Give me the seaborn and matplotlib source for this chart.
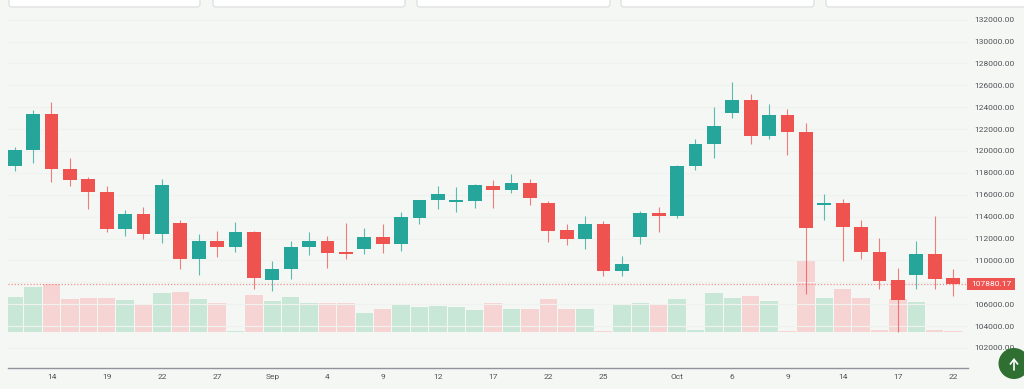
import matplotlib
matplotlib.use('Agg')
import matplotlib.pyplot as plt
from matplotlib.patches import FancyBboxPatch, Circle, Rectangle
import numpy as np
import pandas as pd
import seaborn as sns

W, H = 1024, 389
BG = '#f5f7f4'
UP = '#26a69a'
DOWN = '#ef5350'
UP_VOL = '#c9e7d6'
DOWN_VOL = '#f7d4d4'
TEXT = '#4f5458'

# body start (open) and end (close), wick high and low
opens = [118658, 120060, 123351, 118384, 117470, 116251, 112839, 114271, 112442, 113448,
         110096, 111742, 111223, 112564, 108237, 109213, 111223, 111742, 110736, 111071,
         112107, 111467, 113905, 115489, 115367, 115398, 116769, 116403, 117104, 115276,
         112747, 111985, 113357, 108999, 112168, 114362, 114057, 118658, 120608, 123503,
         124691, 121370, 123320, 121705, 115062, 115276, 113052, 110797, 108177, 108634,
         110553, 108360]
closes = [120090, 123351, 118354, 117379, 116251, 112839, 114271, 112442, 116921, 110096,
          111742, 111223, 112564, 108359, 109243, 111223, 111742, 110706, 110614, 112107,
          111467, 113966, 115550, 116068, 115428, 116861, 116403, 117104, 115672, 112686,
          111985, 113357, 109030, 109700, 114362, 114057, 118628, 120639, 122315, 124691,
          121400, 123320, 121705, 112960, 115276, 113021, 110767, 108146, 106379, 110553,
          108329, 107880]
highs = [120334, 123747, 124509, 119359, 117653, 116800, 114606, 114849, 117439, 113692,
         112381, 112686, 113478, 112686, 109914, 111742, 112625, 112260, 113417, 112930,
         113296, 114393, 115550, 116800, 116739, 117013, 117348, 117896, 117470, 115398,
         113357, 114027, 113570, 110401, 114484, 114849, 118719, 121126, 123990, 126276,
         125240, 124265, 123838, 122589, 116068, 115580, 113661, 112016, 109273, 111742,
         114088, 109182]
lows = [118201, 118933, 117196, 116830, 114667, 112625, 112259, 111924, 111620, 109243,
        108634, 110279, 110797, 107384, 107171, 108329, 110523, 109304, 110157, 110584,
        110706, 110888, 113357, 114727, 114393, 114788, 114788, 116190, 115063, 111711,
        111437, 111010, 108573, 108573, 111528, 112625, 113905, 118292, 119328, 123046,
        120608, 121065, 119664, 106957, 113661, 109943, 110157, 107415, 103484, 107415,
        107415, 106775]
# volume in arbitrary units, the scale is not shown in the picture
volumes = [34.5, 45.0, 47.7, 32.5, 33.7, 33.7, 31.7, 27.0, 39.0, 39.7,
           32.5, 29.0, 0.7, 36.3, 31.0, 35.0, 28.3, 29.0, 28.3, 19.0,
           22.3, 26.3, 24.3, 25.7, 25.0, 21.7, 28.3, 23.0, 23.0, 33.0,
           22.3, 22.3, 0.7, 27.0, 28.3, 27.7, 33.0, 1.3, 39.0, 33.7,
           35.7, 30.3, 0.5, 71.0, 33.7, 42.7, 33.7, 1.3, 32.3, 29.7,
           1.3, 0.5]

tick_index = [2, 5, 8, 11, 14, 17, 20, 23, 26, 29, 32, 36, 39, 42, 45, 48, 51]
tick_labels = ['14', '19', '22', '27', 'Sep', '4', '9', '12', '17', '22', '25',
               'Oct', '6', '9', '14', '17', '22']
price_ticks = list(range(102000, 134000, 2000))
last_price = 107880.17

df = pd.DataFrame({'idx': np.arange(len(opens)), 'open': opens, 'close': closes,
                   'high': highs, 'low': lows, 'volume': volumes})
df['dir'] = np.where(df['close'] >= df['open'], 'up', 'down')
df['color'] = df['dir'].map({'up': UP, 'down': DOWN})

sns.set_theme(style='white')
plt.rcParams['font.family'] = ['Roboto', 'DejaVu Sans']

fig = plt.figure(figsize=(W / 100, H / 100), dpi=100, facecolor=BG)
rect = [8 / W, (H - 368) / H, (968 - 8) / W, 368 / H]
x_range = (-0.364, 51.81)

# volume goes underneath on its own axes
ax_vol = fig.add_axes(rect, facecolor=BG, zorder=1)
sns.barplot(data=df, x='idx', y='volume', hue='dir', native_scale=True, dodge=False,
            palette={'up': UP_VOL, 'down': DOWN_VOL}, width=0.94, saturation=1,
            linewidth=0, legend=False, ax=ax_vol)
ax_vol.set_xlim(*x_range)
ax_vol.set_ylim(-36.3, 331.7)
ax_vol.axis('off')

ax = fig.add_axes(rect, zorder=2)
ax.patch.set_alpha(0)
ax.set_xlim(*x_range)
ax.set_ylim(100166, 133800)

ax.set_yticks(price_ticks)
ax.grid(axis='y', color='#f0f2ef', linewidth=0.8)
ax.set_axisbelow(True)

ax.vlines(df['idx'], df['low'], df['high'], colors=df['color'], linewidth=0.8, alpha=0.75, zorder=3)
ax.bar(df['idx'], (df['close'] - df['open']).abs().clip(lower=120),
       bottom=df[['open', 'close']].min(axis=1), width=0.76, color=df['color'],
       edgecolor='none', zorder=4)

ax.axhline(last_price, color=DOWN, linewidth=0.9, linestyle=(0, (1, 1.5)), alpha=0.6, zorder=5)

ax.set_xticks(tick_index)
ax.set_xticklabels(tick_labels)
ax.yaxis.tick_right()
ax.set_yticklabels(['' if p == 108000 else f'{p:.2f}' for p in price_ticks])
ax.tick_params(axis='x', length=0, pad=4, labelsize=6, labelcolor=TEXT)
ax.tick_params(axis='y', length=0, pad=4.5, labelsize=6, labelcolor=TEXT)
for s in ['top', 'left', 'right']:
    ax.spines[s].set_visible(False)
ax.spines['bottom'].set_color('#8f939c')
ax.spines['bottom'].set_linewidth(1)

# page furniture around the chart, in pixels
over = fig.add_axes([0, 0, 1, 1], zorder=3)
over.set_xlim(0, W)
over.set_ylim(H, 0)
over.axis('off')

price_y = H - ax.transData.transform((0, last_price))[1]
over.add_patch(Rectangle((967, price_y - 6), 48, 12, facecolor=DOWN, edgecolor='none'))
over.text(991, price_y, f'{last_price:.2f}', ha='center', va='center_baseline',
          fontsize=6, color='white')

for x0, x1 in [(9, 200), (213, 405), (417, 610), (621, 814), (826, 1040)]:
    over.add_patch(FancyBboxPatch((x0, -20), x1 - x0, 27, boxstyle='round,pad=0,rounding_size=3',
                                  facecolor='white', edgecolor='#dfe2e2', linewidth=1))
over.add_patch(Circle((1014, 363.5), 15.5, facecolor='#2f6f31', edgecolor='none'))
over.annotate('', xy=(1014, 358), xytext=(1014, 370),
              arrowprops=dict(arrowstyle='->,head_width=0.22,head_length=0.28', color='white',
                              linewidth=1.2, shrinkA=0, shrinkB=0))

fig.savefig('out.png', dpi=100, facecolor=BG)
plt.close(fig)
